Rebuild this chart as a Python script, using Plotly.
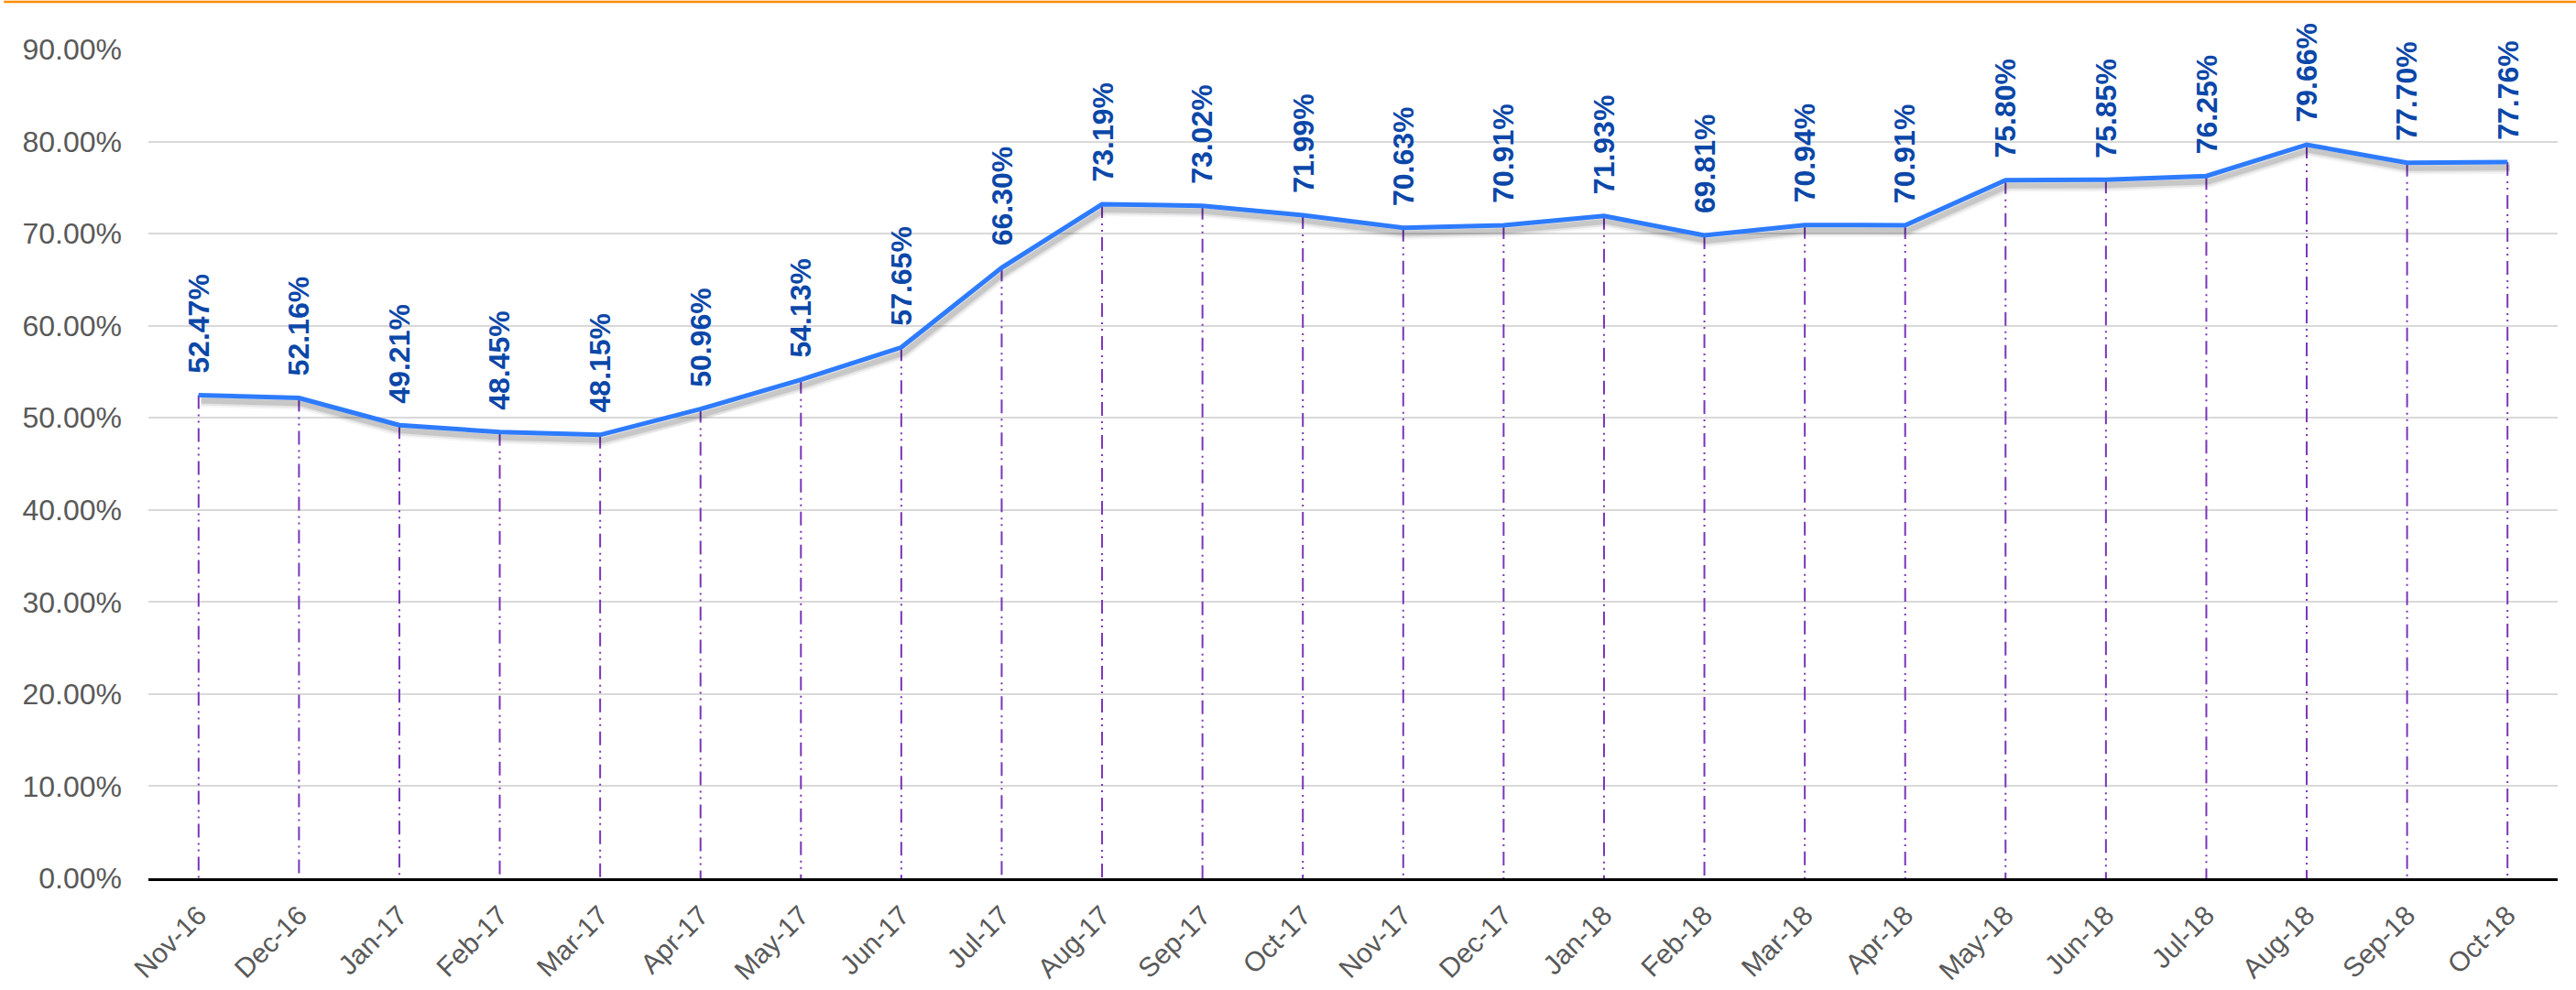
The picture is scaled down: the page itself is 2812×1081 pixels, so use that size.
import plotly.graph_objects as go

# monthly values (percent)
months = ['Nov-16', 'Dec-16', 'Jan-17', 'Feb-17', 'Mar-17', 'Apr-17', 'May-17', 'Jun-17',
          'Jul-17', 'Aug-17', 'Sep-17', 'Oct-17', 'Nov-17', 'Dec-17', 'Jan-18', 'Feb-18',
          'Mar-18', 'Apr-18', 'May-18', 'Jun-18', 'Jul-18', 'Aug-18', 'Sep-18', 'Oct-18']
rates = [52.47, 52.16, 49.21, 48.45, 48.15, 50.96, 54.13, 57.65,
         66.30, 73.19, 73.02, 71.99, 70.63, 70.91, 71.93, 69.81,
         70.94, 70.91, 75.80, 75.85, 76.25, 79.66, 77.70, 77.76]
y_ticks = [0, 10, 20, 30, 40, 50, 60, 70, 80, 90]

FONT = "Liberation Sans, Arial, sans-serif"
LINE_BLUE = "#2D7BFF"
LABEL_BLUE = "#0B47A8"
DROP_PURPLE = "#7A35B8"

fig = go.Figure()

# dash-dot-dot drop lines from each point to the axis
drop_x, drop_y = [], []
for m, v in zip(months, rates):
    drop_x += [m, m, None]
    drop_y += [v, 0, None]
fig.add_trace(go.Scatter(x=drop_x, y=drop_y, mode='lines', hoverinfo='skip',
                         line=dict(color=DROP_PURPLE, width=2, dash='15px,6px,2px,5px,2px,6px'),
                         showlegend=False))

# soft shadow under the line (same data on a slightly shifted overlay axis)
for w, a in [(14, 0.04), (10, 0.07), (6, 0.12)]:
    fig.add_trace(go.Scatter(x=months, y=rates, mode='lines', xaxis='x2', yaxis='y2',
                             hoverinfo='skip', showlegend=False,
                             line=dict(color=f'rgba(0,0,0,{a})', width=w)))

fig.add_trace(go.Scatter(x=months, y=rates, mode='lines', xaxis='x3', yaxis='y3',
                         line=dict(color=LINE_BLUE, width=5), showlegend=False))

# rotated value labels
for m, v in zip(months, rates):
    fig.add_annotation(x=m, y=v, text=f"{v:.2f}%", textangle=-90, showarrow=False,
                       xanchor='center', yanchor='bottom', yshift=22,
                       font=dict(family=FONT, size=32, color=LABEL_BLUE, weight='bold'))

# orange rule along the top of the page
fig.add_shape(type='line', xref='paper', yref='paper', x0=-0.06, x1=1.01, y0=1.0575, y1=1.0575,
              line=dict(color='#FF8C00', width=2.5))

n = len(months)
hidden = dict(visible=False, showgrid=False, zeroline=False)
fig.update_layout(
    width=2812, height=1081, autosize=False,
    margin=dict(l=162, r=20, t=54, b=122, autoexpand=False),
    paper_bgcolor='white', plot_bgcolor='white',
    font=dict(family=FONT, color='#595959'),
    xaxis=dict(type='category', categoryorder='array', categoryarray=months,
               range=[-0.5, n - 0.5], tickangle=-45, showgrid=False, automargin=False,
               showline=True, linecolor='black', linewidth=2.5,
               ticks='', tickfont=dict(size=30, color='#595959'), ticklabelstandoff=8),
    yaxis=dict(range=[0, 90], tickvals=y_ticks, ticktext=[f"{t:.2f}%" for t in y_ticks],
               showgrid=True, gridcolor='#D9D9D9', gridwidth=2, zeroline=False, automargin=False,
               ticks='', tickfont=dict(size=32, color='#595959'), ticklabelstandoff=28),
    xaxis2=dict(hidden, type='category', categoryorder='array', categoryarray=months,
                overlaying='x', range=[-0.5 - 0.025, n - 0.5 - 0.025]),
    yaxis2=dict(hidden, overlaying='y', range=[0.6, 90.6]),
    xaxis3=dict(hidden, type='category', categoryorder='array', categoryarray=months,
                overlaying='x', range=[-0.5, n - 0.5]),
    yaxis3=dict(hidden, overlaying='y', range=[0, 90]),
)

# drop the default page margin so the figure sits at the window's top-left corner
fig.write_html("out.html", config={'displayModeBar': False},
               post_script="document.body.style.margin='0';")
